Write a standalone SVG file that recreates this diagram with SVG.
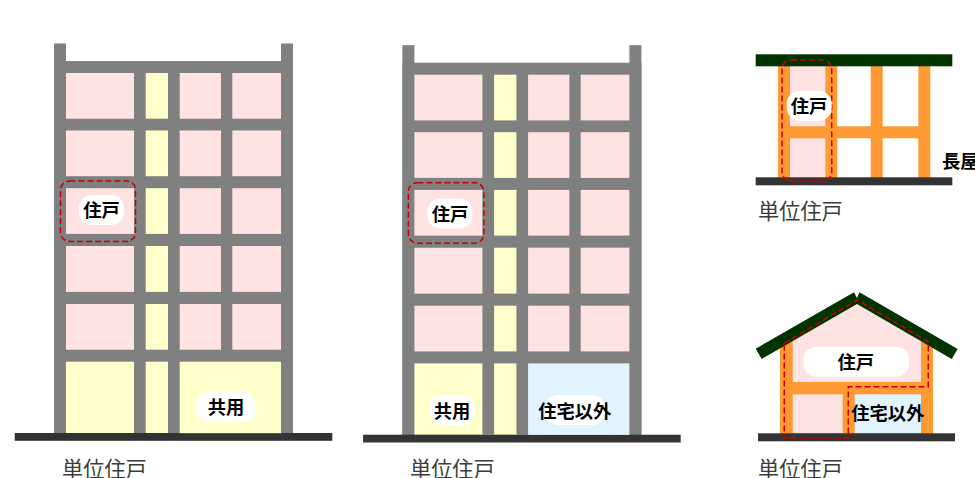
<svg xmlns="http://www.w3.org/2000/svg" width="975" height="478" viewBox="0 0 975 478">
<style>
.gray{fill:#808080}.pink{fill:#ffe3e3}.yel{fill:#ffffcc}.blue{fill:#e0f3ff}.or{fill:#ff9933}.green{fill:#003300}.gnd{fill:#333333}
.pill{fill:#ffffff}
.dash{fill:none;stroke:#c80000;stroke-width:1.5;stroke-dasharray:6 3}
text{font-family:"Noto Sans CJK JP","Noto Sans",sans-serif}
.lb{font-size:18.3px;font-weight:700;fill:#000;text-anchor:middle;dominant-baseline:central}
.cap{font-size:21.2px;fill:#3c3c3c}
</style>
<defs>
<g id="tower">
<rect class="gray" x="54" y="43.5" width="12" height="390"/>
<rect class="gray" x="281" y="43.5" width="12" height="390"/>
<rect class="gray" x="54" y="61" width="239" height="372"/>
<rect class="pink" x="66" y="73" width="68" height="45.7"/><rect class="yel" x="145.7" y="73" width="22.3" height="45.7"/><rect class="pink" x="179.7" y="73" width="41.3" height="45.7"/><rect class="pink" x="232.3" y="73" width="48.7" height="45.7"/>
<rect class="pink" x="66" y="130.5" width="68" height="45.7"/><rect class="yel" x="145.7" y="130.5" width="22.3" height="45.7"/><rect class="pink" x="179.7" y="130.5" width="41.3" height="45.7"/><rect class="pink" x="232.3" y="130.5" width="48.7" height="45.7"/>
<rect class="pink" x="66" y="188.2" width="68" height="45.7"/><rect class="yel" x="145.7" y="188.2" width="22.3" height="45.7"/><rect class="pink" x="179.7" y="188.2" width="41.3" height="45.7"/><rect class="pink" x="232.3" y="188.2" width="48.7" height="45.7"/>
<rect class="pink" x="66" y="246" width="68" height="45.9"/><rect class="yel" x="145.7" y="246" width="22.3" height="45.9"/><rect class="pink" x="179.7" y="246" width="41.3" height="45.9"/><rect class="pink" x="232.3" y="246" width="48.7" height="45.9"/>
<rect class="pink" x="66" y="304" width="68" height="45.7"/><rect class="yel" x="145.7" y="304" width="22.3" height="45.7"/><rect class="pink" x="179.7" y="304" width="41.3" height="45.7"/><rect class="pink" x="232.3" y="304" width="48.7" height="45.7"/>
<rect class="yel" x="66" y="361.7" width="68" height="71.5"/><rect class="yel" x="145.7" y="361.7" width="22.3" height="71.5"/>
<rect class="gnd" x="14.7" y="433" width="317.6" height="7.8"/>
</g>
</defs>
<g id="building-1">
<use href="#tower"/>
<rect class="yel" x="179.7" y="361.7" width="101.3" height="71.5"/>
<g id="b1-unit"><rect class="dash" x="60.5" y="181" width="75" height="60.5" rx="9"/><rect class="pill" x="79" y="195" width="45" height="30" rx="13"/><text class="lb" x="101.5" y="209.2">住戸</text></g>
<g id="b1-shared"><rect class="pill" x="196" y="391.5" width="60" height="30" rx="13"/><text class="lb" x="226" y="406.2">共用</text></g>
<text class="cap" x="62" y="477">単位住戸</text>
</g>
<g id="building-2" transform="translate(348.4,1.7)">
<use href="#tower"/>
<rect class="blue" x="179.7" y="361.7" width="101.3" height="71.5"/>
<g id="b2-unit"><rect class="dash" x="60" y="181" width="75.5" height="60.5" rx="9"/><rect class="pill" x="79" y="196.8" width="45" height="30" rx="13"/><text class="lb" x="101.6" y="211">住戸</text></g>
<g id="b2-shared"><rect class="pill" x="81" y="393.3" width="45" height="30" rx="13"/><text class="lb" x="103.6" y="408">共用</text></g>
<g id="b2-other"><rect class="pill" x="196.6" y="393.3" width="60" height="30" rx="13"/><text class="lb" x="226.3" y="408">住宅以外</text></g>
<text class="cap" x="61.6" y="475.3">単位住戸</text>
</g>
<g id="building-3">
<rect class="pink" x="790" y="66" width="35.3" height="112"/>
<rect class="or" x="778" y="66" width="12" height="112"/><rect class="or" x="825.3" y="66" width="12" height="112"/><rect class="or" x="870.7" y="66" width="12" height="112"/><rect class="or" x="918.3" y="66" width="12" height="112"/>
<rect class="or" x="778" y="126.3" width="152" height="12"/>
<rect class="green" x="755.7" y="54.3" width="196.6" height="12"/>
<rect class="gnd" x="755.7" y="177.3" width="196.6" height="8"/>
<g id="b3-unit"><rect class="dash" x="782" y="60" width="49.7" height="121" rx="9"/><rect class="pill" x="786.7" y="90.7" width="45" height="30" rx="13"/><text class="lb" x="809" y="105.2">住戸</text></g>
<text class="lb" x="942" y="160.2" style="text-anchor:start">長屋</text>
<text class="cap" x="758" y="219">単位住戸</text>
</g>
<g id="building-4">
<polygon class="or" points="780,345 857,300 933,345 933,434 780,434"/>
<polygon class="pink" points="792.7,340 857,303 921,340 921,382 792.7,382"/>
<rect class="pink" x="792.7" y="394.3" width="50" height="39"/>
<rect class="blue" x="854.7" y="394.3" width="66.3" height="39"/>
<polygon class="green" points="755.7,348.7 854,292.3 857,298 857,304 761.7,359"/>
<polygon class="green" points="859.5,292.3 957.7,349 951.7,359 857,304 857,298"/>
<rect class="gnd" x="758" y="433.3" width="197" height="8"/>
<polygon class="dash" points="784.3,343.3 857,300 928.3,341.7 928.3,386.7 848.3,386.7 848.3,438 784.3,438"/>
<g id="b4-unit"><rect class="pill" x="803.3" y="346.7" width="105.7" height="30" rx="13"/><text class="lb" x="855.7" y="361.2">住戸</text></g>
<text class="lb" x="887.7" y="412.2">住宅以外</text>
<text class="cap" x="758" y="477">単位住戸</text>
</g>
</svg>
